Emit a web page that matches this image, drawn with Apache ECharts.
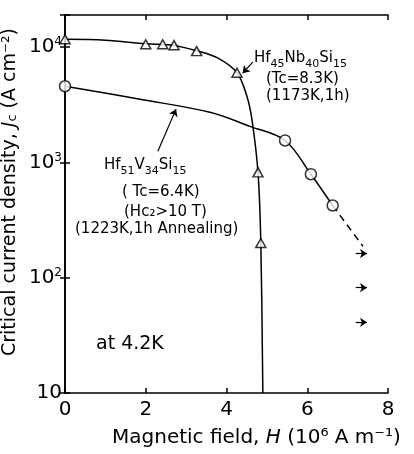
<!DOCTYPE html>
<html>
<head>
<meta charset="utf-8">
<script src="https://cdn.jsdelivr.net/npm/echarts@6/dist/echarts.min.js"></script>
<style>
  html, body { margin: 0; padding: 0; background: #fff; }
  #chart { width: 414px; height: 454px; }
</style>
</head>
<body>
<div id="chart"></div>
<script>
// Hf45Nb40Si15 (triangles)
var triH = [0, 2.0, 2.42, 2.7, 3.26, 4.26, 4.78, 4.85];
var triJ = [11700, 10600, 10600, 10400, 9230, 6000, 820, 200];
// drawn curve through the triangles
var triCurveH = [0, 1, 2.0, 2.7, 3.26, 3.8, 4.26, 4.5, 4.63, 4.78, 4.85, 4.9];
var triCurveJ = [11700, 11500, 10700, 10350, 9300, 8000, 6000, 3800, 2350, 820, 200, 10];

// Hf51V34Si15 (circles)
var cirH = [0, 5.45, 6.09, 6.63];
var cirJ = [4580, 1550, 790, 423];
var cirCurveH = [0, 1.86, 3.59, 4.58, 5.45, 6.09, 6.63];
var cirCurveJ = [4580, 3530, 2720, 2055, 1550, 790, 423];
var dashH = [6.63, 7.38];
var dashJ = [423, 187];
// "greater than" arrows
var arrowJ = [162, 82, 41];
var arrowFrom = 7.2, arrowTo = 7.48;

var xTicks = [0, 2, 4, 6, 8];
var yMin = 10, yMax = 19000;

var font = 'DejaVu Sans';
var chart = echarts.init(document.getElementById('chart'));

function sup(v) {
  var e = Math.round(Math.log10(v));
  if (Math.abs(Math.log10(v) - e) > 1e-6) return '';
  if (e === 1) return '10';
  return '10{s|' + e + '}';
}

var richT = {
  n: { fontFamily: font, fontSize: 15, lineHeight: 16, verticalAlign: 'top', fill: '#000' },
  s: { fontFamily: font, fontSize: 11, lineHeight: 19, verticalAlign: 'bottom', fill: '#000' }
};

function txt(x, y, s, extra) {
  var o = {
    type: 'text', left: x, top: y,
    style: { text: s, fontFamily: font, fontSize: 15, fill: '#000', rich: richT }
  };
  if (extra) Object.assign(o.style, extra);
  return o;
}

var arrowLines = arrowJ.map(function (j) {
  return [{ coord: [arrowFrom, j] }, { coord: [arrowTo, j] }];
});
arrowLines.push([{ coord: [4.65, 7400] }, { coord: [4.4, 5950] }]);
arrowLines.push([{ coord: [2.3, 1250] }, { coord: [2.75, 2900] }]);

var axisLine = { lineStyle: { color: '#000', width: 1.6 } };
var tick = { inside: true, length: 5, lineStyle: { color: '#000', width: 1.5 } };

var option = {
  animation: false,
  backgroundColor: '#fff',
  grid: { left: 65, right: 26, top: 15, bottom: 61 },
  xAxis: [{
    type: 'value', min: 0, max: 8, interval: 2, position: 'bottom',
    axisLine: axisLine, axisTick: tick, splitLine: { show: false },
    axisLabel: { color: '#000', fontFamily: font, fontSize: 20, margin: 7 }
  }, {
    type: 'value', min: 0, max: 8, interval: 2, position: 'top',
    axisLine: axisLine, axisTick: tick, splitLine: { show: false },
    axisLabel: { show: false }
  }],
  yAxis: [{
    type: 'log', logBase: 10, min: yMin, max: yMax, position: 'left',
    axisLine: axisLine, axisTick: tick, splitLine: { show: false },
    axisLabel: {
      color: '#000', fontFamily: font, fontSize: 20, margin: 3,
      formatter: sup,
      rich: { s: { fontFamily: font, fontSize: 12, verticalAlign: 'top', lineHeight: 22, padding: [0, 0, 12, 0] } }
    }
  }, {
    type: 'log', logBase: 10, min: yMin, max: yMax, position: 'right',
    axisLine: axisLine, axisTick: tick, splitLine: { show: false },
    axisLabel: { show: false }
  }],
  series: [{
    type: 'line', data: triCurveH.map(function (h, i) { return [h, triCurveJ[i]]; }),
    smooth: 0.35, showSymbol: false, lineStyle: { color: '#000', width: 1.5 }
  }, {
    type: 'scatter', data: triH.map(function (h, i) { return [h, triJ[i]]; }),
    symbol: 'triangle', symbolSize: [10, 9],
    itemStyle: { color: '#fff', borderColor: '#000', borderWidth: 1.5 }, z: 5
  }, {
    type: 'line', data: cirCurveH.map(function (h, i) { return [h, cirCurveJ[i]]; }),
    smooth: 0.35, showSymbol: false, lineStyle: { color: '#000', width: 1.5 }
  }, {
    type: 'line', data: dashH.map(function (h, i) { return [h, dashJ[i]]; }),
    showSymbol: false, lineStyle: { color: '#000', width: 1.5, type: [7, 5] }
  }, {
    type: 'scatter', data: cirH.map(function (h, i) { return [h, cirJ[i]]; }),
    symbol: 'circle', symbolSize: 11,
    itemStyle: { color: '#fff', borderColor: '#000', borderWidth: 1.5 }, z: 5,
    markLine: {
      silent: true, symbol: ['none', 'arrow'], symbolSize: 7,
      label: { show: false },
      lineStyle: { color: '#000', width: 1.2, type: 'solid' },
      data: arrowLines
    }
  }],
  graphic: [
    txt(254, 51, '{n|Hf}{s|45}{n|Nb}{s|40}{n|Si}{s|15}'),
    txt(266, 72, '(Tc=8.3K)'),
    txt(266, 89, '(1173K,1h)'),
    txt(104, 158, '{n|Hf}{s|51}{n|V}{s|34}{n|Si}{s|15}'),
    txt(122, 185, '( Tc=6.4K)'),
    txt(124, 205, '(Hc₂>10 T)'),
    txt(75, 222, '(1223K,1h Annealing)'),
    txt(96, 335, 'at 4.2K', { fontSize: 19 }),
    {
      type: 'text', left: 112, top: 428,
      style: {
        text: 'Magnetic field, {i|H} (10⁶ A m⁻¹)', fontFamily: font, fontSize: 20, fill: '#000',
        rich: { i: { fontFamily: font, fontSize: 20, fontStyle: 'italic' } }
      }
    },
    {
      type: 'text', x: 10, y: 192, rotation: Math.PI / 2,
      style: {
        text: 'Critical current density, {i|J}{c|c} (A cm⁻²)', fontFamily: font, fontSize: 19, fill: '#000',
        align: 'center', verticalAlign: 'middle',
        rich: {
          i: { fontFamily: font, fontSize: 19, fontStyle: 'italic' },
          c: { fontFamily: font, fontSize: 13, verticalAlign: 'bottom', lineHeight: 16 }
        }
      }
    }
  ]
};
chart.setOption(option);
</script>
</body>
</html>
